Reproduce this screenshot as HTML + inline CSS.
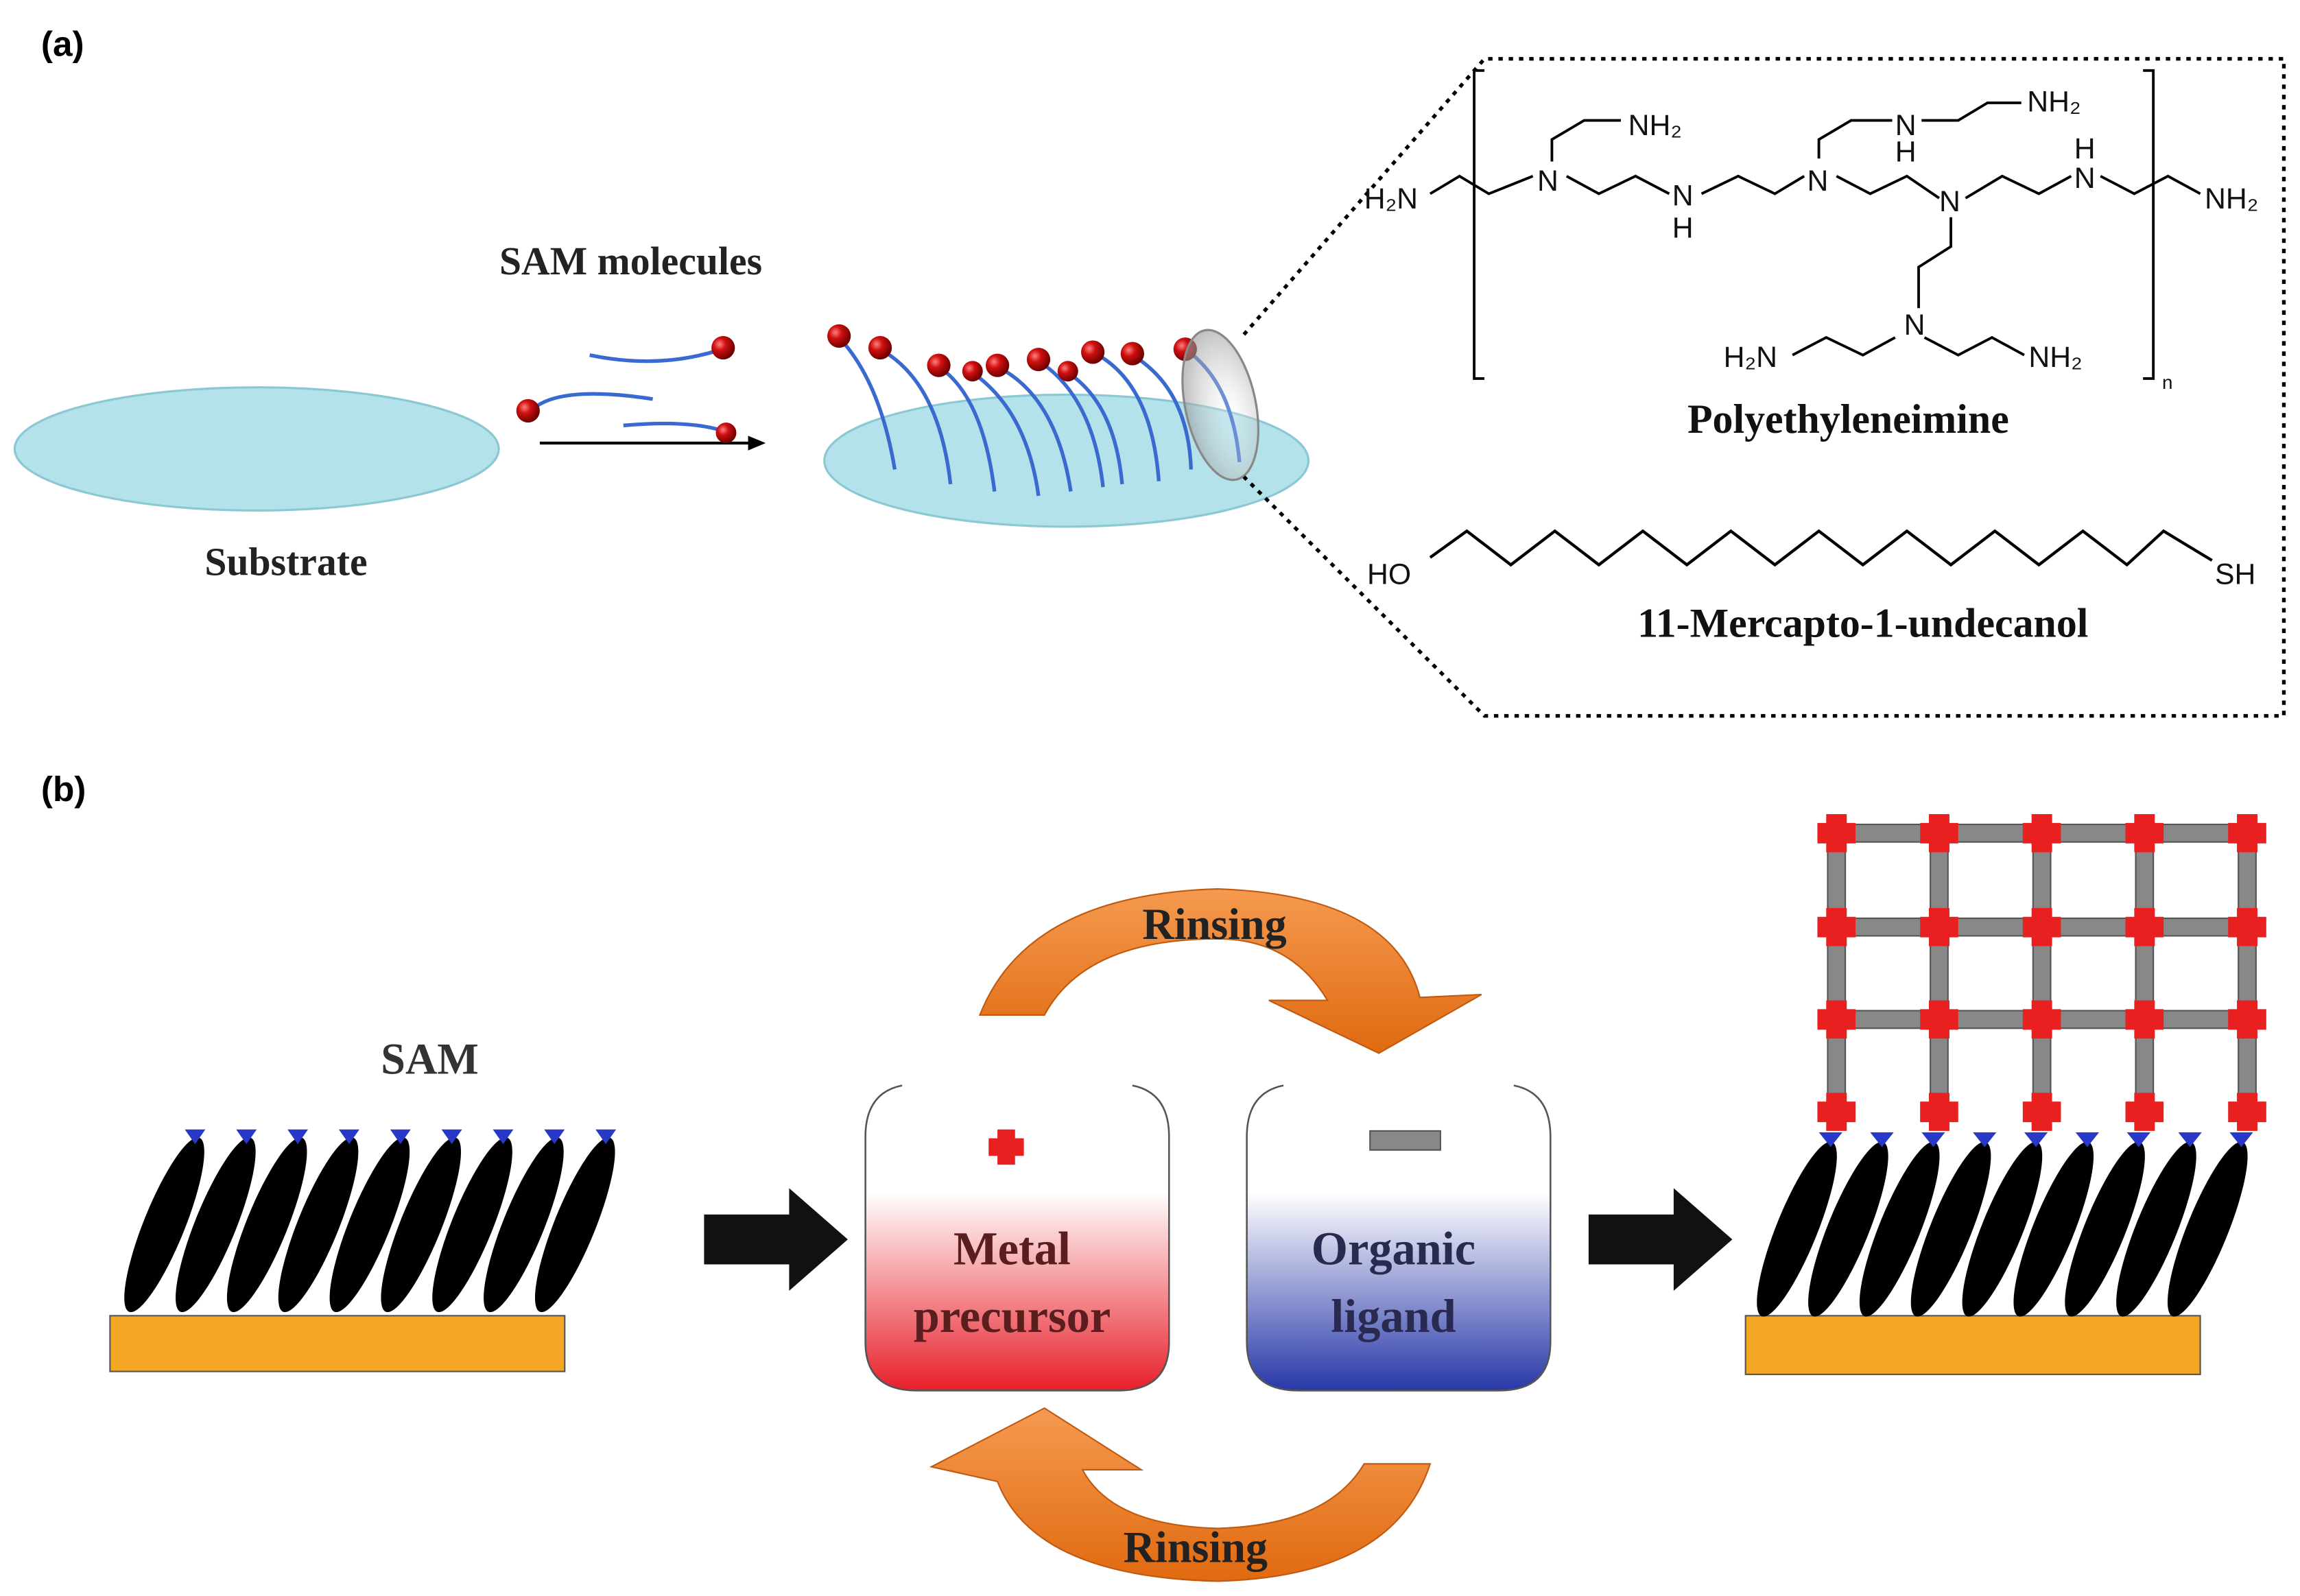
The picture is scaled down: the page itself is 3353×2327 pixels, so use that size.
<!DOCTYPE html>
<html><head><meta charset="utf-8"><style>
html,body{margin:0;padding:0;background:#fff;}
svg{display:block;}
.serif{font-family:"Liberation Serif",serif;font-weight:bold;}
.sans{font-family:"Liberation Sans",sans-serif;}
</style></head><body>
<svg width="3353" height="2327" viewBox="0 0 1568 1088" xmlns="http://www.w3.org/2000/svg">
<defs>
<radialGradient id="ball" cx="35%" cy="35%" r="65%"><stop offset="0" stop-color="#ff8080"/><stop offset="0.4" stop-color="#d01010"/><stop offset="1" stop-color="#700000"/></radialGradient>
<linearGradient id="red" x1="0" y1="0" x2="0" y2="1"><stop offset="0.35" stop-color="#fff"/><stop offset="1" stop-color="#e8202a"/></linearGradient>
<linearGradient id="blue" x1="0" y1="0" x2="0" y2="1"><stop offset="0.35" stop-color="#fff"/><stop offset="1" stop-color="#2838a8"/></linearGradient>
<linearGradient id="or" x1="0" y1="0" x2="0" y2="1"><stop offset="0" stop-color="#f59a50"/><stop offset="1" stop-color="#e06a10"/></linearGradient>
<radialGradient id="glass" cx="60%" cy="60%" r="60%"><stop offset="0" stop-color="#fff" stop-opacity="0.2"/><stop offset="1" stop-color="#999" stop-opacity="0.6"/></radialGradient>
<path id="p" d="M-7,-13 h14 v6 h6 v14 h-6 v6 h-14 v-6 h-6 v-14 h6z"/>
</defs>
<text x="28" y="38" class="sans" font-weight="bold" font-size="24">(a)</text>
<ellipse cx="175" cy="306" rx="165" ry="42" fill="#b4e2ea" stroke="#8cc8d4" stroke-width="1.5"/>
<text x="195" y="392" class="serif" font-size="27" text-anchor="middle" fill="#222">Substrate</text>
<text x="430" y="187" class="serif" font-size="27" text-anchor="middle" fill="#222">SAM molecules</text>
<line x1="368" y1="302" x2="512" y2="302" stroke="#000" stroke-width="2"/>
<polygon points="522,302 510,297 510,307" fill="#000"/>
<g fill="none" stroke="#3a6ad0" stroke-width="2.5">
<path d="M402,242 Q450,252 492,238"/>
<path d="M362,280 Q380,262 445,272"/>
<path d="M425,290 Q470,286 494,294"/>
</g>
<circle cx="493" cy="237" r="8" fill="url(#ball)"/><circle cx="360" cy="280" r="8" fill="url(#ball)"/><circle cx="495" cy="295" r="7" fill="url(#ball)"/>
<ellipse cx="727" cy="314" rx="165" ry="45" fill="#b4e2ea" stroke="#8cc8d4" stroke-width="1.5"/>
<g fill="none" stroke="#3a6ad0" stroke-width="2.5">
<path d="M572,230 Q600,260 610,320"/><path d="M600,238 Q640,260 648,330"/><path d="M640,250 Q670,270 678,335"/><path d="M663,254 Q700,280 708,338"/><path d="M680,250 Q720,270 730,335"/><path d="M708,246 Q745,270 752,332"/><path d="M728,254 Q760,275 765,330"/><path d="M745,240 Q785,260 790,328"/><path d="M772,242 Q810,265 812,320"/><path d="M808,238 Q840,260 845,315"/>
</g>
<g fill="url(#ball)">
<circle cx="572" cy="229" r="8"/><circle cx="600" cy="237" r="8"/><circle cx="640" cy="249" r="8"/><circle cx="663" cy="253" r="7"/><circle cx="680" cy="249" r="8"/><circle cx="708" cy="245" r="8"/><circle cx="728" cy="253" r="7"/><circle cx="745" cy="240" r="8"/><circle cx="772" cy="241" r="8"/><circle cx="808" cy="238" r="8"/>
</g>
<ellipse cx="832" cy="276" rx="24" ry="52" transform="rotate(-12 832 276)" fill="url(#glass)" stroke="#888" stroke-width="1.5"/>
<polyline points="848,228 1012,40 1557,40 1557,488 1012,488 848,325" fill="none" stroke="#000" stroke-width="2.5" stroke-dasharray="3,4"/>
<g fill="none" stroke="#000" stroke-width="1.8">
<path d="M1012,48 L1005,48 L1005,258 L1012,258"/>
<path d="M1461,48 L1468,48 L1468,258 L1461,258"/>
<path d="M975,132 L995,120 L1015,132 L1045,120"/>
<path d="M1068,120 L1090,132 L1115,120 L1138,132"/>
<path d="M1058,110 L1058,95 L1080,82 L1105,82"/>
<path d="M1160,132 L1185,120 L1210,132 L1230,120"/>
<path d="M1240,108 L1240,95 L1262,82 L1290,82"/>
<path d="M1310,82 L1335,82 L1355,70 L1378,70"/>
<path d="M1252,120 L1275,132 L1300,120 L1322,135"/>
<path d="M1340,135 L1365,120 L1390,132 L1412,120"/>
<path d="M1432,120 L1455,132 L1478,120 L1500,132"/>
<path d="M1330,148 L1330,168 L1308,182 L1308,210"/>
<path d="M1222,242 L1245,230 L1270,242 L1292,230"/>
<path d="M1312,230 L1335,242 L1358,230 L1380,242"/>
</g>
<g class="sans" font-size="20" fill="#111">
<text x="930" y="142">H₂N</text>
<text x="1048" y="130">N</text>
<text x="1110" y="92">NH₂</text>
<text x="1140" y="140">N</text><text x="1140" y="162">H</text>
<text x="1232" y="130">N</text>
<text x="1292" y="92">N</text><text x="1292" y="110">H</text>
<text x="1382" y="76">NH₂</text>
<text x="1322" y="144">N</text>
<text x="1414" y="108">H</text><text x="1414" y="128">N</text>
<text x="1503" y="142">NH₂</text>
<text x="1298" y="228">N</text>
<text x="1175" y="250">H₂N</text>
<text x="1383" y="250">NH₂</text>
<text x="1474" y="265" font-size="13">n</text>
<text x="932" y="398">HO</text>
<text x="1510" y="398">SH</text>
</g>
<text x="1260" y="295" class="serif" font-size="28" text-anchor="middle" fill="#111">Polyethyleneimine</text>
<polyline points="975,380 1000,362 1030,385 1060,362 1090,385 1120,362 1150,385 1180,362 1210,385 1240,362 1270,385 1300,362 1330,385 1360,362 1390,385 1420,362 1450,385 1475,362 1508,382" fill="none" stroke="#000" stroke-width="2"/>
<text x="1270" y="434" class="serif" font-size="28" text-anchor="middle" fill="#111">11-Mercapto-1-undecanol</text>
<text x="28" y="546" class="sans" font-weight="bold" font-size="24">(b)</text>
<text x="293" y="732" class="serif" font-size="30" text-anchor="middle" fill="#333" font-weight="normal">SAM</text>
<rect x="75" y="897" width="310" height="38" fill="#f5a623" stroke="#555" stroke-width="1"/>
<g fill="#000">
<ellipse cx="112" cy="835" rx="14" ry="64" transform="rotate(22 112 835)"/><ellipse cx="147" cy="835" rx="14" ry="64" transform="rotate(22 147 835)"/><ellipse cx="182" cy="835" rx="14" ry="64" transform="rotate(22 182 835)"/><ellipse cx="217" cy="835" rx="14" ry="64" transform="rotate(22 217 835)"/><ellipse cx="252" cy="835" rx="14" ry="64" transform="rotate(22 252 835)"/><ellipse cx="287" cy="835" rx="14" ry="64" transform="rotate(22 287 835)"/><ellipse cx="322" cy="835" rx="14" ry="64" transform="rotate(22 322 835)"/><ellipse cx="357" cy="835" rx="14" ry="64" transform="rotate(22 357 835)"/><ellipse cx="392" cy="835" rx="14" ry="64" transform="rotate(22 392 835)"/>
</g>
<g fill="#2838c8">
<path d="M126,770 h14 l-7,10z"/><path d="M161,770 h14 l-7,10z"/><path d="M196,770 h14 l-7,10z"/><path d="M231,770 h14 l-7,10z"/><path d="M266,770 h14 l-7,10z"/><path d="M301,770 h14 l-7,10z"/><path d="M336,770 h14 l-7,10z"/><path d="M371,770 h14 l-7,10z"/><path d="M406,770 h14 l-7,10z"/>
</g>
<path d="M480,828 h58 v-18 l40,35 -40,35 v-18 h-58z" fill="#111"/>
<path d="M1083,828 h58 v-18 l40,35 -40,35 v-18 h-58z" fill="#111"/>
<path d="M615,740 Q590,745 590,775 V915 Q590,948 625,948 H762 Q797,948 797,915 V775 Q797,745 772,740" fill="url(#red)" stroke="#555" stroke-width="1.2"/>
<path d="M875,740 Q850,745 850,775 V915 Q850,948 885,948 H1022 Q1057,948 1057,915 V775 Q1057,745 1032,740" fill="url(#blue)" stroke="#555" stroke-width="1.2"/>
<path d="M680,770 h12 v6 h6 v12 h-6 v6 h-12 v-6 h-6 v-12 h6z" fill="#e82020"/>
<rect x="934" y="771" width="48" height="13" fill="#888" stroke="#555"/>
<g class="serif" font-size="32" text-anchor="middle">
<text x="690" y="862" fill="#5a1e1e">Metal</text><text x="690" y="908" fill="#5a1e1e">precursor</text>
<text x="950" y="862" fill="#2a2a50">Organic</text><text x="950" y="908" fill="#2a2a50">ligand</text>
</g>
<path d="M668,692 Q700,610 830,606 Q950,610 968,680 L1010,678 L940,718 L865,682 L905,682 Q880,640 830,640 Q740,640 712,692z" fill="url(#or)" stroke="#c05a10" stroke-width="1"/>
<text x="828" y="640" class="serif" font-size="30" text-anchor="middle" fill="#222" font-weight="normal">Rinsing</text>
<path d="M975,998 Q950,1075 830,1078 Q705,1075 680,1010 L635,1000 L712,960 L778,1002 L738,1002 Q758,1040 830,1042 Q905,1040 930,998z" fill="url(#or)" stroke="#c05a10" stroke-width="1"/>
<text x="815" y="1065" class="serif" font-size="30" text-anchor="middle" fill="#222" font-weight="normal">Rinsing</text>
<rect x="1190" y="897" width="310" height="40" fill="#f5a623" stroke="#555" stroke-width="1"/>
<g fill="#000">
<ellipse cx="1225" cy="838" rx="14" ry="64" transform="rotate(22 1225 838)"/><ellipse cx="1260" cy="838" rx="14" ry="64" transform="rotate(22 1260 838)"/><ellipse cx="1295" cy="838" rx="14" ry="64" transform="rotate(22 1295 838)"/><ellipse cx="1330" cy="838" rx="14" ry="64" transform="rotate(22 1330 838)"/><ellipse cx="1365" cy="838" rx="14" ry="64" transform="rotate(22 1365 838)"/><ellipse cx="1400" cy="838" rx="14" ry="64" transform="rotate(22 1400 838)"/><ellipse cx="1435" cy="838" rx="14" ry="64" transform="rotate(22 1435 838)"/><ellipse cx="1470" cy="838" rx="14" ry="64" transform="rotate(22 1470 838)"/><ellipse cx="1505" cy="838" rx="14" ry="64" transform="rotate(22 1505 838)"/>
</g>
<g fill="#2838c8">
<path d="M1240,772 h16 l-8,10z"/><path d="M1275,772 h16 l-8,10z"/><path d="M1310,772 h16 l-8,10z"/><path d="M1345,772 h16 l-8,10z"/><path d="M1380,772 h16 l-8,10z"/><path d="M1415,772 h16 l-8,10z"/><path d="M1450,772 h16 l-8,10z"/><path d="M1485,772 h16 l-8,10z"/><path d="M1520,772 h16 l-8,10z"/>
</g>
<g fill="#888" stroke="#555" stroke-width="1">
<rect x="1246" y="562" width="292" height="12"/><rect x="1246" y="626" width="292" height="12"/><rect x="1246" y="689" width="292" height="12"/>
<rect x="1246" y="562" width="12" height="200"/><rect x="1316" y="562" width="12" height="200"/><rect x="1386" y="562" width="12" height="200"/><rect x="1456" y="562" width="12" height="200"/><rect x="1526" y="562" width="12" height="200"/>
</g>
<g fill="#e82020">
<use href="#p" x="1252" y="568"/><use href="#p" x="1322" y="568"/><use href="#p" x="1392" y="568"/><use href="#p" x="1462" y="568"/><use href="#p" x="1532" y="568"/>
<use href="#p" x="1252" y="632"/><use href="#p" x="1322" y="632"/><use href="#p" x="1392" y="632"/><use href="#p" x="1462" y="632"/><use href="#p" x="1532" y="632"/>
<use href="#p" x="1252" y="695"/><use href="#p" x="1322" y="695"/><use href="#p" x="1392" y="695"/><use href="#p" x="1462" y="695"/><use href="#p" x="1532" y="695"/>
<use href="#p" x="1252" y="758"/><use href="#p" x="1322" y="758"/><use href="#p" x="1392" y="758"/><use href="#p" x="1462" y="758"/><use href="#p" x="1532" y="758"/>
</g>
</svg>
</body></html>
